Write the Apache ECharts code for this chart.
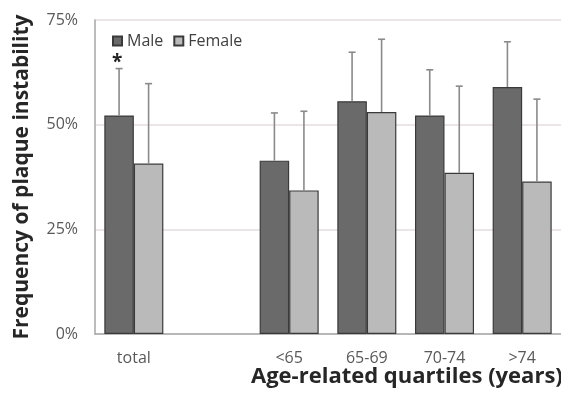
<!DOCTYPE html>
<html>
<head>
<meta charset="utf-8">
<script src="https://cdn.jsdelivr.net/npm/echarts@6/dist/echarts.min.js"></script>
<style>
  html, body { margin: 0; padding: 0; background: #ffffff; }
  #chart { width: 561px; height: 394px; }
</style>
</head>
<body>
<div id="chart"></div>
<script>
// Age groups (the empty slot separates the overall column from the quartiles)
const categories = ['total', '', '<65', '65-69', '70-74', '>74'];
// Frequency of plaque instability, percent
const maleValues   = [52.2, null, 41.4, 55.6, 52.2, 59.0];
const femaleValues = [40.7, null, 34.3, 53.0, 38.5, 36.4];
// Upper end of the error bars, percent
const maleUpper    = [63.4, null, 52.8, 67.3, 63.1, 69.8];
const femaleUpper  = [59.8, null, 53.2, 70.4, 59.2, 56.1];
// Significance marks above the male bars
const maleMarks    = ['*', '', '', '', '', ''];
const yTicks = [0, 25, 50, 75];

const BAR_RATIO = 0.38;
const FONT = '"Open Sans", sans-serif';

function errorSeries(name, values, upper, marks, side) {
  return {
    type: 'custom',
    name: name + ' SD',
    silent: true,
    z: 5,
    data: categories.map((c, i) => [i, values[i], upper[i]]),
    renderItem: function (params, api) {
      const v = api.value(1);
      const u = api.value(2);
      if (v == null || isNaN(v) || u == null || isNaN(u)) return null;
      const band = api.size([1, 0])[0];
      const bw = band * BAR_RATIO;
      const base = api.coord([api.value(0), v]);
      const x = base[0] + side * bw / 2;
      const yTop = api.coord([api.value(0), u])[1];
      const cap = 3.5;
      const style = { stroke: '#8a8a8a', lineWidth: 1.6 };
      const children = [
        { type: 'line', shape: { x1: x, y1: base[1], x2: x, y2: yTop }, style: style },
        { type: 'line', shape: { x1: x - cap, y1: yTop, x2: x + cap, y2: yTop }, style: style }
      ];
      const mark = marks ? marks[params.dataIndex] : '';
      if (mark) {
        children.push({
          type: 'text',
          style: {
            text: mark, x: x - 2, y: yTop - 15,
            align: 'center', verticalAlign: 'top',
            font: 'bold 19px ' + FONT, fill: '#222222'
          }
        });
      }
      return { type: 'group', children: children };
    }
  };
}

const chart = echarts.init(document.getElementById('chart'), null, { renderer: 'canvas' });
chart.setOption({
  animation: false,
  backgroundColor: '#ffffff',
  grid: { left: 95, top: 20, bottom: 60, right: -10, containLabel: false },
  legend: {
    left: 107, top: 28,
    itemWidth: 9, itemHeight: 9, itemGap: 10,
    icon: 'rect',
    textStyle: { fontFamily: FONT, fontSize: 16, color: '#404040', padding: [0, 0, 0, 0] },
    data: ['Male', 'Female']
  },
  xAxis: {
    type: 'category',
    data: categories,
    axisLine: { lineStyle: { color: '#a6a6a6', width: 1.5 } },
    axisTick: { show: false },
    axisLabel: { color: '#595959', fontFamily: FONT, fontSize: 16, margin: 16 },
    splitLine: { show: false }
  },
  yAxis: {
    type: 'value',
    min: 0, max: 75, interval: 25,
    name: 'Frequency of plaque instability',
    nameLocation: 'middle',
    nameGap: 62,
    nameTextStyle: { fontFamily: FONT, fontSize: 21, fontWeight: 'bold', color: '#262626' },
    axisLine: { show: true, lineStyle: { color: '#a6a6a6', width: 1.5 } },
    axisTick: { show: false },
    axisLabel: {
      color: '#595959', fontFamily: FONT, fontSize: 16, margin: 17,
      formatter: v => yTicks.includes(v) ? v + '%' : ''
    },
    splitLine: { lineStyle: { color: '#e6dcdc', width: 1.5 } }
  },
  graphic: [{
    type: 'text',
    left: 251, top: 366,
    style: {
      text: 'Age-related quartiles (years)',
      font: 'bold 22px ' + FONT,
      fill: '#262626'
    }
  }],
  series: [
    {
      name: 'Male', type: 'bar', data: maleValues,
      barWidth: (BAR_RATIO * 100) + '%', barGap: '0%',
      itemStyle: { color: '#6a6a6a', borderColor: '#3a3a3a', borderWidth: 1.2 }
    },
    {
      name: 'Female', type: 'bar', data: femaleValues,
      barWidth: (BAR_RATIO * 100) + '%', barGap: '0%',
      itemStyle: { color: '#bababa', borderColor: '#3a3a3a', borderWidth: 1.2 }
    },
    errorSeries('Male', maleValues, maleUpper, maleMarks, -1),
    errorSeries('Female', femaleValues, femaleUpper, null, 1)
  ]
});
</script>
</body>
</html>
